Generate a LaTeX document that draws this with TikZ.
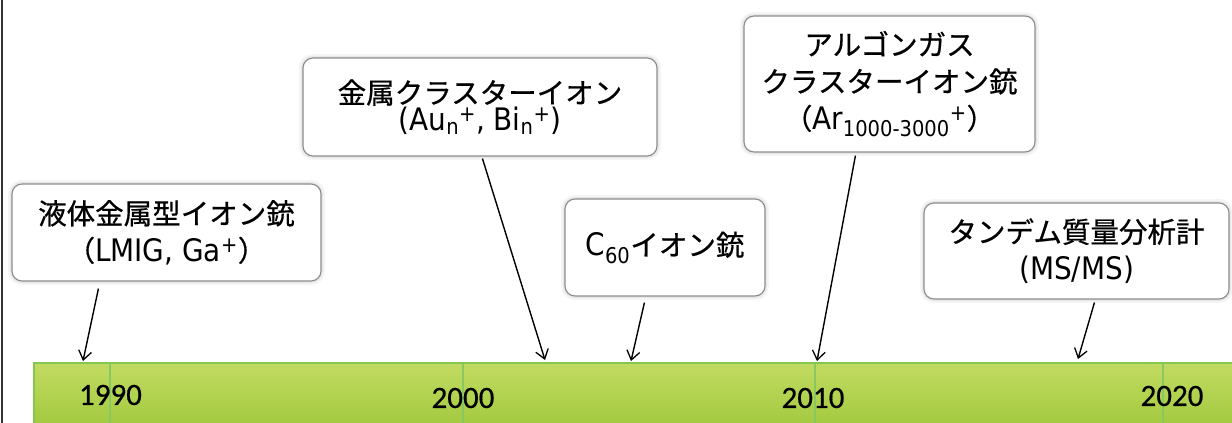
\documentclass[tikz,border=0pt]{standalone}
\usepackage{fontspec}
\setmainfont{DejaVu Sans}[FakeStretch=0.9]
\newfontfamily\jp{Noto Sans CJK JP}[Scale=0.92,FakeBold=0.6]
\newfontfamily\yr{Carlito}[FakeBold=0.5]
\usetikzlibrary{arrows.meta}
\definecolor{barTop}{HTML}{C2DB62}
\definecolor{barBot}{HTML}{A0C83C}
\definecolor{barLine}{HTML}{84C750}
\definecolor{tickLine}{HTML}{88C862}
\definecolor{boxLine}{HTML}{8C8C8C}
\begin{document}
\begin{tikzpicture}[x=1pt,y=-1pt,
  evbox/.style={draw=boxLine, line width=1.1pt, rounded corners=10pt, fill=white,
    align=center, inner sep=0pt, font=\fontsize{31}{37}\selectfont,
    preaction={draw=black, draw opacity=0.04, line width=8pt},
    preaction={draw=black, draw opacity=0.06, line width=4pt}},
  year/.style={font=\yr\fontsize{31}{34}\selectfont, inner sep=0pt},
  arr/.style={line width=1.4pt, -{Straight Barb[length=9pt,width=13pt,line width=1.3pt]}},
  tick/.style={draw=tickLine, line width=2pt}]
\useasboundingbox (0,0) rectangle (1232,423);
\clip (0,0) rectangle (1232,423);
% left border
\draw[line width=2pt, color=black!80] (1.5,0) -- (1.5,423);
% timeline bar
\shade[top color=barTop, bottom color=barBot] (34,363) rectangle (1240,430);
\draw[barLine, line width=1.6pt] (34,430) -- (34,363) -- (1240,363);
\foreach \x in {110,463,815,1163} \draw[tick] (\x,364) -- (\x,430);
% years
\node[year] (y1990) at (110.5,395) {1990};
\node[year] (y2000) at (463,398) {2000};
\node[year] (y2010) at (813,398) {2010};
\node[year] (y2020) at (1172,396) {2020};
% boxes
\node[evbox, minimum width=309pt, minimum height=97pt] (b1) at (166.5,232.5)
  {{\jp 液体金属型イオン銃}\\{\jp （}LMIG, Ga\textsuperscript{+}{\jp ）}};
\node[evbox, minimum width=354pt, minimum height=98pt] (b2) at (480,107)
  {{\jp 金属クラスターイオン}\\[-10pt](Au\textsubscript{n}\textsuperscript{+}, Bi\textsubscript{n}\textsuperscript{+})};
\node[evbox, minimum width=200pt, minimum height=97pt] (b3) at (665,247.5)
  {C\textsubscript{60}{\jp イオン銃}};
\node[evbox, minimum width=291pt, minimum height=136pt] (b4) at (889.5,84)
  {{\jp アルゴンガス}\\{\jp クラスターイオン銃}\\{\jp （}Ar\textsubscript{1000-3000}\textsuperscript{+}{\jp ）}};
\node[evbox, minimum width=305pt, minimum height=96pt] (b5) at (1076.5,251)
  {{\jp タンデム質量分析計}\\(MS/MS)};
% arrow targets on the bar
\coordinate (t1) at (83,361);
\coordinate (t2) at (545,360);
\coordinate (t3) at (631,361);
\coordinate (t4) at (817,361);
\coordinate (t5) at (1078,359);
% arrows
\draw[arr] ([xshift=87pt,yshift=-7pt]b1.south west) -- (t1);
\draw[arr] ([xshift=180pt,yshift=-2pt]b2.south west) -- (t2);
\draw[arr] ([xshift=80pt,yshift=-6pt]b3.south west) -- (t3);
\draw[arr] ([xshift=112pt,yshift=-3pt]b4.south west) -- (t4);
\draw[arr] ([xshift=171pt,yshift=-3pt]b5.south west) -- (t5);
\end{tikzpicture}
\end{document}
